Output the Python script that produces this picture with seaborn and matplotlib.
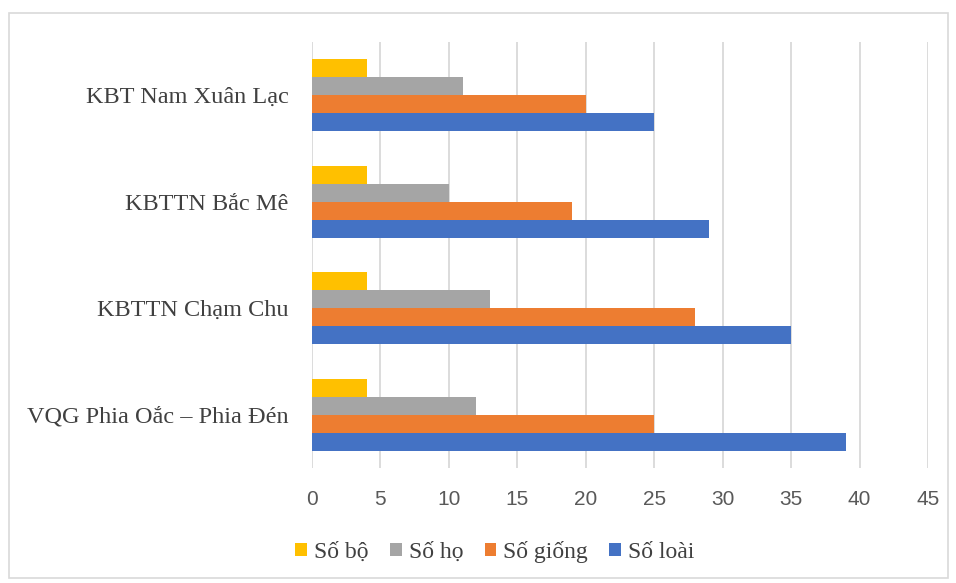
import matplotlib
matplotlib.use("Agg")
import matplotlib.pyplot as plt
import seaborn as sns
import pandas as pd
from matplotlib.patches import Rectangle, Patch

# Data
sites = ["KBT Nam Xuân Lạc", "KBTTN Bắc Mê", "KBTTN Chạm Chu", "VQG Phia Oắc – Phia Đén"]
series = ["Số bộ", "Số họ", "Số giống", "Số loài"]
so_bo = [4, 4, 4, 4]
so_ho = [11, 10, 13, 12]
so_giong = [20, 19, 28, 25]
so_loai = [25, 29, 35, 39]
colors = ["#FFC000", "#A5A5A5", "#ED7D31", "#4472C4"]
xticks = [0, 5, 10, 15, 20, 25, 30, 35, 40, 45]

rows = []
for name, vals in zip(series, [so_bo, so_ho, so_giong, so_loai]):
    for site, v in zip(sites, vals):
        rows.append({"site": site, "series": name, "value": v})
df = pd.DataFrame(rows)

sns.set_theme(style="white")
plt.rcParams["font.family"] = ["Liberation Serif", "DejaVu Serif"]

fig = plt.figure(figsize=(9.56, 5.83), dpi=100)
ax = fig.add_axes([312 / 956, 1 - 468 / 583, (928 - 312) / 956, (468 - 42) / 583])

sns.barplot(data=df, y="site", x="value", hue="series", order=sites,
            hue_order=series, palette=colors, orient="h", width=0.68,
            saturation=1, legend=False, linewidth=0, ax=ax)

ax.set_xlim(0, 45)
ax.set_xticks(xticks)
ax.set_xticklabels([str(t) for t in xticks], family=["Liberation Sans"],
                   fontsize=15, color="#595959")
ax.tick_params(axis="x", length=0, pad=16)
ax.tick_params(axis="y", length=0, pad=17, labelsize=17.5, labelcolor="#404040")
for lbl in ax.get_yticklabels():
    lbl.set_y(lbl.get_position()[1])
ax.set_xlabel("")
ax.set_ylabel("")
ax.grid(axis="x", color="#d9d9d9", linewidth=1.3)
ax.set_axisbelow(True)
for s in ax.spines.values():
    s.set_visible(False)

handles = [Patch(facecolor=c, edgecolor="none") for c in colors]
fig.legend(handles, series, loc="center", bbox_to_anchor=(495 / 956, 1 - 552 / 583),
           ncol=4, frameon=False, fontsize=17, handlelength=0.5, handleheight=0.5,
           handletextpad=0.3, columnspacing=0.9, labelcolor="#404040")

fig.patches.append(Rectangle((9 / 956, 5 / 583), 939 / 956, 565 / 583,
                             transform=fig.transFigure, fill=False,
                             edgecolor="#d9d9d9", linewidth=1.2))

fig.savefig("out.png", dpi=100)
